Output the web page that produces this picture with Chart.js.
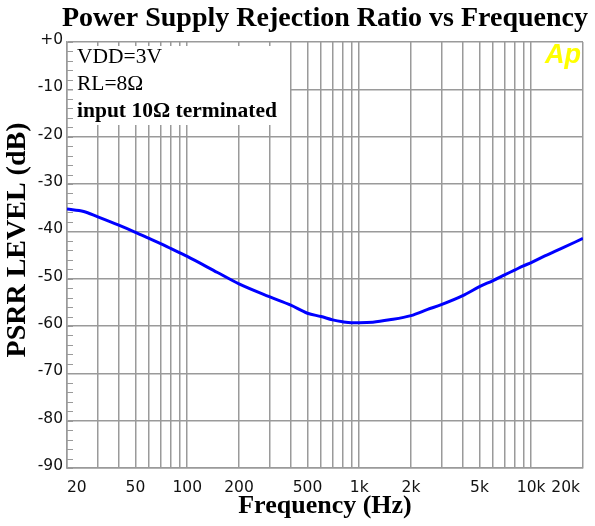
<!DOCTYPE html>
<html>
<head>
<meta charset="utf-8">
<script src="https://cdn.jsdelivr.net/npm/chart.js@4.4.1/dist/chart.umd.min.js"></script>
<style>
  html, body { margin: 0; padding: 0; background: #ffffff; }
  canvas { display: block; }
</style>
</head>
<body>
<canvas id="c" width="595" height="526"></canvas>
<script>
// ---- Data ----
const freqHz = [20, 25, 30, 40, 50, 60, 70, 80, 90, 100, 150, 200, 300, 400, 500, 600, 700, 800, 900,
                1000, 1200, 1500, 2000, 2500, 3000, 4000, 5000, 6000, 7000, 8000, 9000, 10000, 12000, 15000, 20000];
const psrrDb = [-35.3, -35.8, -36.9, -38.7, -40.2, -41.5, -42.6, -43.6, -44.5, -45.3, -48.7, -51.1, -53.8, -55.6, -57.3, -58.0, -58.7, -59.1, -59.3,
                -59.3, -59.2, -58.7, -57.8, -56.5, -55.5, -53.6, -51.7, -50.4, -49.2, -48.2, -47.3, -46.6, -45.2, -43.6, -41.5];

// axis ticks
const xGridValues = [20, 30, 40, 50, 60, 70, 80, 90, 100, 200, 300, 400, 500, 600, 700, 800, 900,
                     1000, 2000, 3000, 4000, 5000, 6000, 7000, 8000, 9000, 10000, 20000];
const xTickValues = [20, 50, 100, 200, 500, 1000, 2000, 5000, 10000, 20000];
const xTickLabels = ['20', '50', '100', '200', '500', '1k', '2k', '5k', '10k', '20k'];
const yTickValues = [0, -10, -20, -30, -40, -50, -60, -70, -80, -90];
const yTickLabels = ['+0', '-10', '-20', '-30', '-40', '-50', '-60', '-70', '-80', '-90'];
const yMinorStep = 2;

// texts
const chartTitle = 'Power Supply Rejection Ratio vs Frequency';
const xTitle = 'Frequency (Hz)';
const yTitle = 'PSRR LEVEL (dB)';
const noteLines = ['VDD=3V', 'RL=8\u03A9', 'input 10\u03A9 terminated'];
const noteBold = [false, false, true];
const logoText = 'Ap';

const GRID = '#9a9a9a';
const SERIF = '"Liberation Serif", "Times New Roman", serif';
const SANS = '"DejaVu Sans", Verdana, sans-serif';

const decorPlugin = {
  id: 'decor',
  beforeDatasetsDraw(chart) {
    const ctx = chart.ctx;
    const area = chart.chartArea;
    const ys = chart.scales.y;
    ctx.save();
    // minor y ticks inside the left edge
    ctx.strokeStyle = GRID;
    ctx.lineWidth = 1;
    for (let v = -90; v <= 0; v += yMinorStep) {
      const py = Math.round(ys.getPixelForValue(v)) + 0.5;
      ctx.beginPath();
      ctx.moveTo(area.left, py);
      ctx.lineTo(area.left + 6, py);
      ctx.stroke();
    }
    // white note box
    ctx.fillStyle = '#ffffff';
    ctx.fillRect(area.left + 6, area.top + 4, 290 - area.left - 6, 125 - area.top - 4);
    // note text
    ctx.fillStyle = '#000000';
    ctx.textAlign = 'left';
    ctx.textBaseline = 'alphabetic';
    const baselines = [63, 90, 117];
    noteLines.forEach((t, i) => {
      ctx.font = (noteBold[i] ? 'bold ' : '') + '21.5px ' + SERIF;
      ctx.fillText(t, 77, baselines[i]);
    });
    // logo
    ctx.fillStyle = '#ffff00';
    ctx.font = 'italic bold 27px "Liberation Sans", Arial, sans-serif';
    ctx.fillText(logoText, 545, 63);
    ctx.restore();
  },
  afterDraw(chart) {
    const ctx = chart.ctx;
    const area = chart.chartArea;
    const xs = chart.scales.x;
    const ys = chart.scales.y;
    ctx.save();
    // tick labels
    ctx.fillStyle = '#111111';
    ctx.font = '15.5px ' + SANS;
    ctx.textBaseline = 'alphabetic';
    xTickValues.forEach((v, i) => {
      const px = xs.getPixelForValue(v);
      if (i === 0) { ctx.textAlign = 'left'; ctx.fillText(xTickLabels[i], px, 492); }
      else if (i === xTickValues.length - 1) { ctx.textAlign = 'right'; ctx.fillText(xTickLabels[i], px - 3, 492); }
      else { ctx.textAlign = 'center'; ctx.fillText(xTickLabels[i], px, 492); }
    });
    ctx.textAlign = 'right';
    ctx.textBaseline = 'middle';
    yTickValues.forEach((v, i) => {
      ctx.fillText(yTickLabels[i], 63, ys.getPixelForValue(v) - 2);
    });
    // titles
    ctx.fillStyle = '#000000';
    ctx.textBaseline = 'alphabetic';
    ctx.textAlign = 'center';
    ctx.font = 'bold 28px ' + SERIF;
    ctx.fillText(chartTitle, (area.left + area.right) / 2, 26);
    ctx.font = 'bold 26px ' + SERIF;
    ctx.fillText(xTitle, (area.left + area.right) / 2, 513);
    ctx.save();
    ctx.translate(25, 240);
    ctx.rotate(-Math.PI / 2);
    ctx.font = 'bold 28px ' + SERIF;
    ctx.fillText(yTitle, 0, 0);
    ctx.restore();
    ctx.restore();
  }
};

new Chart(document.getElementById('c'), {
  type: 'line',
  data: {
    datasets: [{
      data: freqHz.map((f, i) => ({ x: f, y: psrrDb[i] })),
      borderColor: '#0000ff',
      borderWidth: 3,
      pointRadius: 0,
      tension: 0.4,
      cubicInterpolationMode: 'monotone',
      fill: false
    }]
  },
  options: {
    responsive: false,
    animation: false,
    devicePixelRatio: 1,
    layout: { padding: { left: 67, right: 12, top: 42, bottom: 58 } },
    plugins: { legend: { display: false }, title: { display: false }, tooltip: { enabled: false } },
    scales: {
      x: {
        type: 'logarithmic',
        min: 20,
        max: 20000,
        afterBuildTicks: (s) => { s.ticks = xGridValues.map(v => ({ value: v })); },
        ticks: { display: false },
        grid: { color: GRID, lineWidth: 1.5, drawTicks: false },
        border: { display: true, color: GRID, width: 1.5 }
      },
      y: {
        type: 'linear',
        min: -90,
        max: 0,
        afterBuildTicks: (s) => { s.ticks = yTickValues.map(v => ({ value: v })); },
        ticks: { display: false },
        grid: { color: GRID, lineWidth: 1.5, drawTicks: false },
        border: { display: true, color: GRID, width: 1.5 }
      }
    }
  },
  plugins: [decorPlugin]
});
</script>
</body>
</html>
